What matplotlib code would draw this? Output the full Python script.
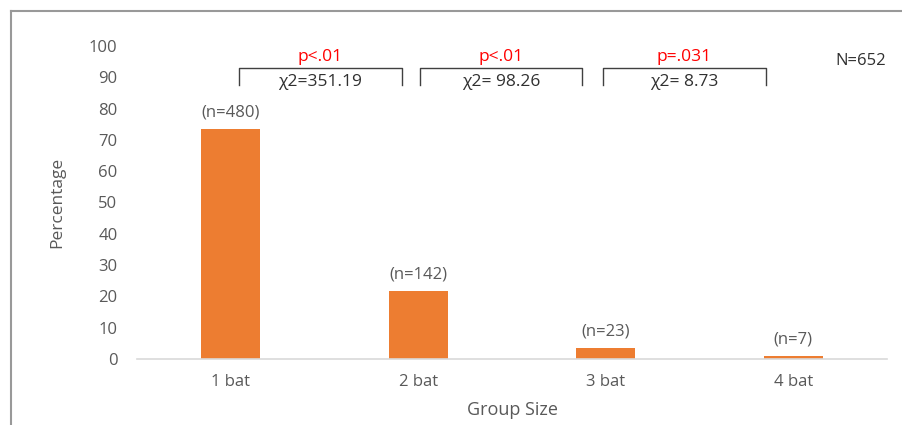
import matplotlib
matplotlib.use("Agg")
import matplotlib.pyplot as plt
from matplotlib.lines import Line2D

# Data
categories = ["1 bat", "2 bat", "3 bat", "4 bat"]
counts = [480, 142, 23, 7]
total_n = 652
percentages = [c / total_n * 100 for c in counts]
count_labels = [f"(n={c})" for c in counts]

# pairwise comparisons between adjacent group sizes
pair_chi2 = ["χ2=351.19", "χ2= 98.26", "χ2= 8.73"]
pair_p = ["p<.01", "p<.01", "p=.031"]

plt.rcParams["font.family"] = ["Open Sans", "DejaVu Sans"]

TEXT = "#595959"
ORANGE = "#ED7D31"

fig = plt.figure(figsize=(9.03, 4.25), dpi=100)
ax = fig.add_axes([0.1517, 0.1553, 0.8306, 0.7365])

x = list(range(len(categories)))
ax.bar(x, percentages, width=0.315, color=ORANGE, zorder=2)

ax.set_xlim(-0.5, 3.5)
ax.set_ylim(0, 100)
ax.set_yticks(range(0, 101, 10))
ax.set_xticks(x)
ax.set_xticklabels(categories)
ax.tick_params(axis="both", length=0, labelsize=12, labelcolor=TEXT)
ax.tick_params(axis="y", pad=14)
ax.tick_params(axis="x", pad=11)

for side in ("top", "right", "left"):
    ax.spines[side].set_visible(False)
ax.spines["bottom"].set_color("#d9d9d9")
ax.spines["bottom"].set_linewidth(1.2)

ax.set_ylabel("Percentage", fontsize=12.5, color=TEXT, labelpad=17)
ax.set_xlabel("Group Size", fontsize=13, color=TEXT, labelpad=8)

# count labels above each bar
for xi, p, lab in zip(x, percentages, count_labels):
    ax.annotate(lab, (xi, p), xytext=(0, 6), textcoords="offset points",
                ha="center", va="bottom", fontsize=12, color=TEXT)

# comparison brackets between adjacent bars (horizontal extents in axis units)
bracket_spans = [(0.044, 0.913), (1.009, 1.873), (1.985, 2.855)]
y_top, y_bot = 93.0, 87.5
for (x0, x1), chi, pv in zip(bracket_spans, pair_chi2, pair_p):
    ax.plot([x0, x0, x1, x1], [y_bot, y_top, y_top, y_bot],
            color="#404040", lw=1.0, clip_on=False)
    xm = (x0 + x1) / 2
    ax.text(xm, 96.6, pv, ha="center", va="center", fontsize=12.5,
            color="#FF0000")
    ax.text(xm, 88.6, chi, ha="center", va="center", fontsize=12.5,
            color="#303030")

ax.text(3.36, 95.2, f"N={total_n}", ha="center", va="center",
        fontsize=12, color="#303030")

# outer frame (left and top edges)
fig.add_artist(Line2D([11 / 903, 11 / 903], [0, 1 - 11 / 425],
                      transform=fig.transFigure, color="#999999", lw=1.5))
fig.add_artist(Line2D([11 / 903, 1], [1 - 11 / 425, 1 - 11 / 425],
                      transform=fig.transFigure, color="#999999", lw=1.5))

fig.savefig("out.png", dpi=100)
